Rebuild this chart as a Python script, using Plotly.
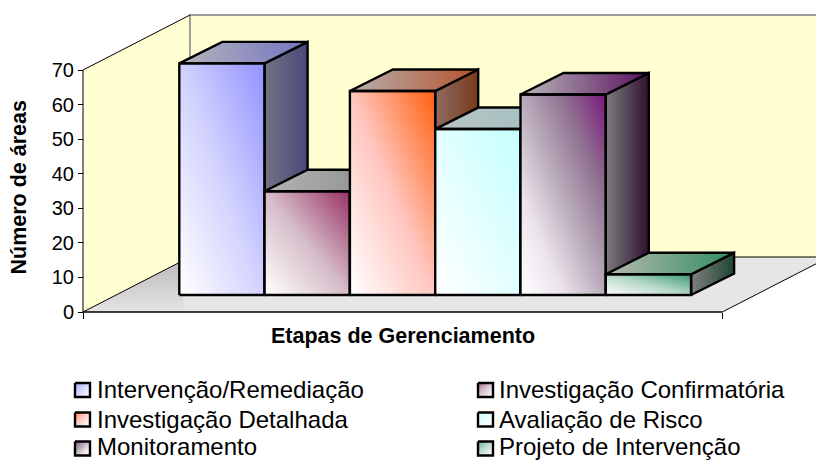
import numpy as np
import plotly.graph_objects as go

# Number of contaminated areas per management stage
stages = ["Intervenção/Remediação", "Investigação Confirmatória", "Investigação Detalhada",
          "Avaliação de Risco", "Monitoramento", "Projeto de Intervenção"]
areas = [67, 30, 59, 48, 58, 6]
y_ticks = [0, 10, 20, 30, 40, 50, 60, 70]

# Front-face gradients, light corner to saturated corner
front_scales = [
    [[0, "#ffffff"], [0.5, "#d2d2ff"], [1, "#9393ff"]],
    [[0, "#ffffff"], [0.5, "#d5bcc8"], [1, "#993366"]],
    [[0, "#ffffff"], [0.5, "#ffc6bf"], [1, "#ff6210"]],
    [[0, "#ffffff"], [0.5, "#e2ffff"], [1, "#c4ffff"]],
    [[0, "#ffffff"], [0.25, "#ece4ec"], [0.5, "#b9abba"], [0.75, "#8f7090"], [1, "#7b1a7b"]],
    [[0, "#ffffff"], [0.5, "#b5d8c8"], [1, "#3a9a70"]],
]
side_colors = [("#727282", "#494a7c"), ("#6d5a64", "#5e2040"), ("#8f6c62", "#7a3a1a"),
               ("#8a9a9a", "#7f9f9f"), ("#7c7c7c", "#2f1030"), ("#808080", "#1f4632")]
top_colors = [("#b4b4b8", "#7474c4"), ("#b4b4b4", "#8a8a8a"), ("#b8b0b0", "#b4522a"),
              ("#bcc4c4", "#9cc0c0"), ("#b8b8b8", "#5a105e"), ("#b8b8b0", "#2f8f62")]

WIDTH, HEIGHT = 816, 460
SLOT_PX, UNIT_PX = 85.3, 3.457
ORIGIN_PX_X, ORIGIN_PX_Y = 179.3, 312


def xu(px):
    return (px - ORIGIN_PX_X) / SLOT_PX


def yu(px):
    return (ORIGIN_PX_Y - px) / UNIT_PX


AXIS_L, AXIS_R = xu(83), xu(722.3)
WALL_DX, WALL_DY = 107 / SLOT_PX, 55 / UNIT_PX
WALL_H = 70
BAR_BASE = 17 / UNIT_PX
BAR_DX, BAR_DY = 43 / SLOT_PX, 21.5 / UNIT_PX

fig = go.Figure()


def poly(xs, ys, fill=None, line=None, width=1, grad=None, axes=("x", "y")):
    kw = {}
    if grad is not None:
        kw["fillgradient"] = grad
    elif fill is not None:
        kw["fillcolor"] = fill
    fig.add_trace(go.Scatter(
        x=xs, y=ys, mode="lines", xaxis=axes[0], yaxis=axes[1],
        fill="toself" if (fill or grad) else "none",
        line=dict(color=line or "rgba(0,0,0,0)", width=width),
        hoverinfo="skip", showlegend=False, **kw))


def hgrad(pair):
    return dict(type="horizontal", colorscale=[[0, pair[0]], [1, pair[1]]])


def diagonal(n=64):
    u, v = np.meshgrid(np.linspace(0, 1, n), np.linspace(0, 1, n))
    return (u + v) / 2


# Walls and floor
top_back = WALL_H + WALL_DY
far_r = AXIS_R + WALL_DX
poly([AXIS_L + WALL_DX, far_r, far_r, AXIS_L + WALL_DX, AXIS_L + WALL_DX],
     [WALL_DY, WALL_DY, top_back, top_back, WALL_DY], fill="#ffffd2")
poly([AXIS_L, AXIS_L + WALL_DX, AXIS_L + WALL_DX, AXIS_L, AXIS_L],
     [0, WALL_DY, top_back, WALL_H, 0], fill="#ffffd2")
poly([AXIS_L, AXIS_R, far_r, AXIS_L + WALL_DX, AXIS_L],
     [0, 0, WALL_DY, WALL_DY, 0], fill="#e6e6e6")
poly([AXIS_L, 0.05, 0.05, AXIS_L + WALL_DX * 0.93, AXIS_L],
     [0, 0, WALL_DY * 0.93, WALL_DY * 0.93, 0],
     grad=dict(type="vertical", colorscale=[[0, "#e4e4e4"], [1, "#bcbcbc"]]))
poly([AXIS_L + WALL_DX, AXIS_L + WALL_DX, far_r], [WALL_DY, top_back, top_back], line="#808080", width=1.5)
poly([AXIS_L + WALL_DX, far_r], [WALL_DY, WALL_DY], line="#000000")
poly([AXIS_L, AXIS_L, AXIS_L + WALL_DX], [0, WALL_H, top_back], line="#000000")
poly([AXIS_L, AXIS_L + WALL_DX], [0, WALL_DY], line="#000000")
poly([AXIS_R, far_r], [0, WALL_DY], line="#000000")
poly([AXIS_L, AXIS_R], [0, 0], line="#000000", width=1.5)

# One overlaid axis pair per bar keeps left-to-right painting order
layout_axes = {}
for i, (value, scale) in enumerate(zip(areas, front_scales)):
    ax = str(i + 2)
    axes = ("x" + ax, "y" + ax)
    layout_axes["xaxis" + ax] = dict(overlaying="x", visible=False)
    layout_axes["yaxis" + ax] = dict(overlaying="y", visible=False)
    x0, x1 = i, i + 1
    y0, y1 = BAR_BASE, BAR_BASE + value
    fig.add_trace(go.Heatmap(
        x=np.linspace(x0, x1, 65), y=np.linspace(y0, y1, 65), z=diagonal(),
        colorscale=scale, zmin=0, zmax=1, showscale=False, hoverinfo="skip",
        xaxis=axes[0], yaxis=axes[1]))
    poly([x1, x1 + BAR_DX, x1 + BAR_DX, x1, x1], [y0, y0 + BAR_DY, y1 + BAR_DY, y1, y0],
         grad=hgrad(side_colors[i]), line="#000000", width=2.4, axes=axes)
    poly([x0, x0 + BAR_DX, x1 + BAR_DX, x1, x0], [y1, y1 + BAR_DY, y1 + BAR_DY, y1, y1],
         grad=hgrad(top_colors[i]), line="#000000", width=2.4, axes=axes)
    poly([x0, x1, x1, x0, x0], [y0, y0, y1, y1, y0], line="#000000", width=2.4, axes=axes)

# Legend swatches and labels on a canvas-sized axis pair
layout_axes["xaxis8"] = dict(overlaying="x", visible=False, range=[0, WIDTH])
layout_axes["yaxis8"] = dict(overlaying="y", visible=False, range=[HEIGHT, 0])
COL_SWATCH, COL_TEXT = [75, 478], [95, 497]
ROWS = [390, 419.5, 448.5]
TEXT_ROWS = [389.5, 419, 446]
annotations = []
for i, label in enumerate(stages):
    col, row = i % 2, i // 2
    sx, sy = COL_SWATCH[col], ROWS[row]
    fig.add_trace(go.Heatmap(
        x=np.linspace(sx, sx + 15, 17), y=np.linspace(sy - 7, sy + 7, 17),
        z=0.8 * (1 - diagonal(16)), colorscale=front_scales[i], zmin=0, zmax=1,
        showscale=False, hoverinfo="skip", xaxis="x8", yaxis="y8"))
    poly([sx, sx + 15, sx + 15, sx, sx], [sy - 7, sy - 7, sy + 7, sy + 7, sy - 7],
         line="#000000", width=2.4, axes=("x8", "y8"))
    annotations.append(dict(
        text=label, xref="paper", yref="paper", x=COL_TEXT[col] / WIDTH, y=1 - TEXT_ROWS[row] / HEIGHT,
        xanchor="left", yanchor="middle", showarrow=False,
        font=dict(family="Liberation Sans", size=24, color="#000000")))

annotations.append(dict(
    text="<b>Etapas de Gerenciamento</b>", xref="paper", yref="paper",
    x=402.5 / WIDTH, y=1 - 336 / HEIGHT, xanchor="center", yanchor="middle", showarrow=False,
    font=dict(family="Liberation Sans", size=21.5, color="#000000")))
annotations.append(dict(
    text="<b>Número de áreas</b>", xref="paper", yref="paper", textangle=-90,
    x=18.5 / WIDTH, y=1 - 187 / HEIGHT, xanchor="center", yanchor="middle", showarrow=False,
    font=dict(family="Liberation Sans", size=21.5, color="#000000")))

fig.update_layout(
    width=WIDTH, height=HEIGHT, margin=dict(l=0, r=0, t=0, b=0),
    paper_bgcolor="#ffffff", plot_bgcolor="#ffffff", showlegend=False,
    annotations=annotations,
    xaxis=dict(range=[xu(0), xu(WIDTH)], domain=[0, 1], anchor="free", position=1 - ORIGIN_PX_Y / HEIGHT,
               tickvals=[AXIS_L, AXIS_R], ticktext=["", ""], ticks="outside", ticklen=6,
               tickcolor="#000000", showgrid=False, zeroline=False, showline=False),
    yaxis=dict(range=[yu(HEIGHT), yu(0)], domain=[0, 1], anchor="free", position=83 / WIDTH,
               tickvals=y_ticks, ticks="outside", ticklen=5, tickcolor="#000000",
               tickfont=dict(family="Liberation Sans", size=20, color="#000000"),
               showgrid=False, zeroline=False, showline=False),
    **layout_axes)
for ax in range(2, 8):
    fig.layout["xaxis" + str(ax)].range = [xu(0), xu(WIDTH)]
    fig.layout["yaxis" + str(ax)].range = [yu(HEIGHT), yu(0)]

fig.write_html("out.html", config=dict(displayModeBar=False))
